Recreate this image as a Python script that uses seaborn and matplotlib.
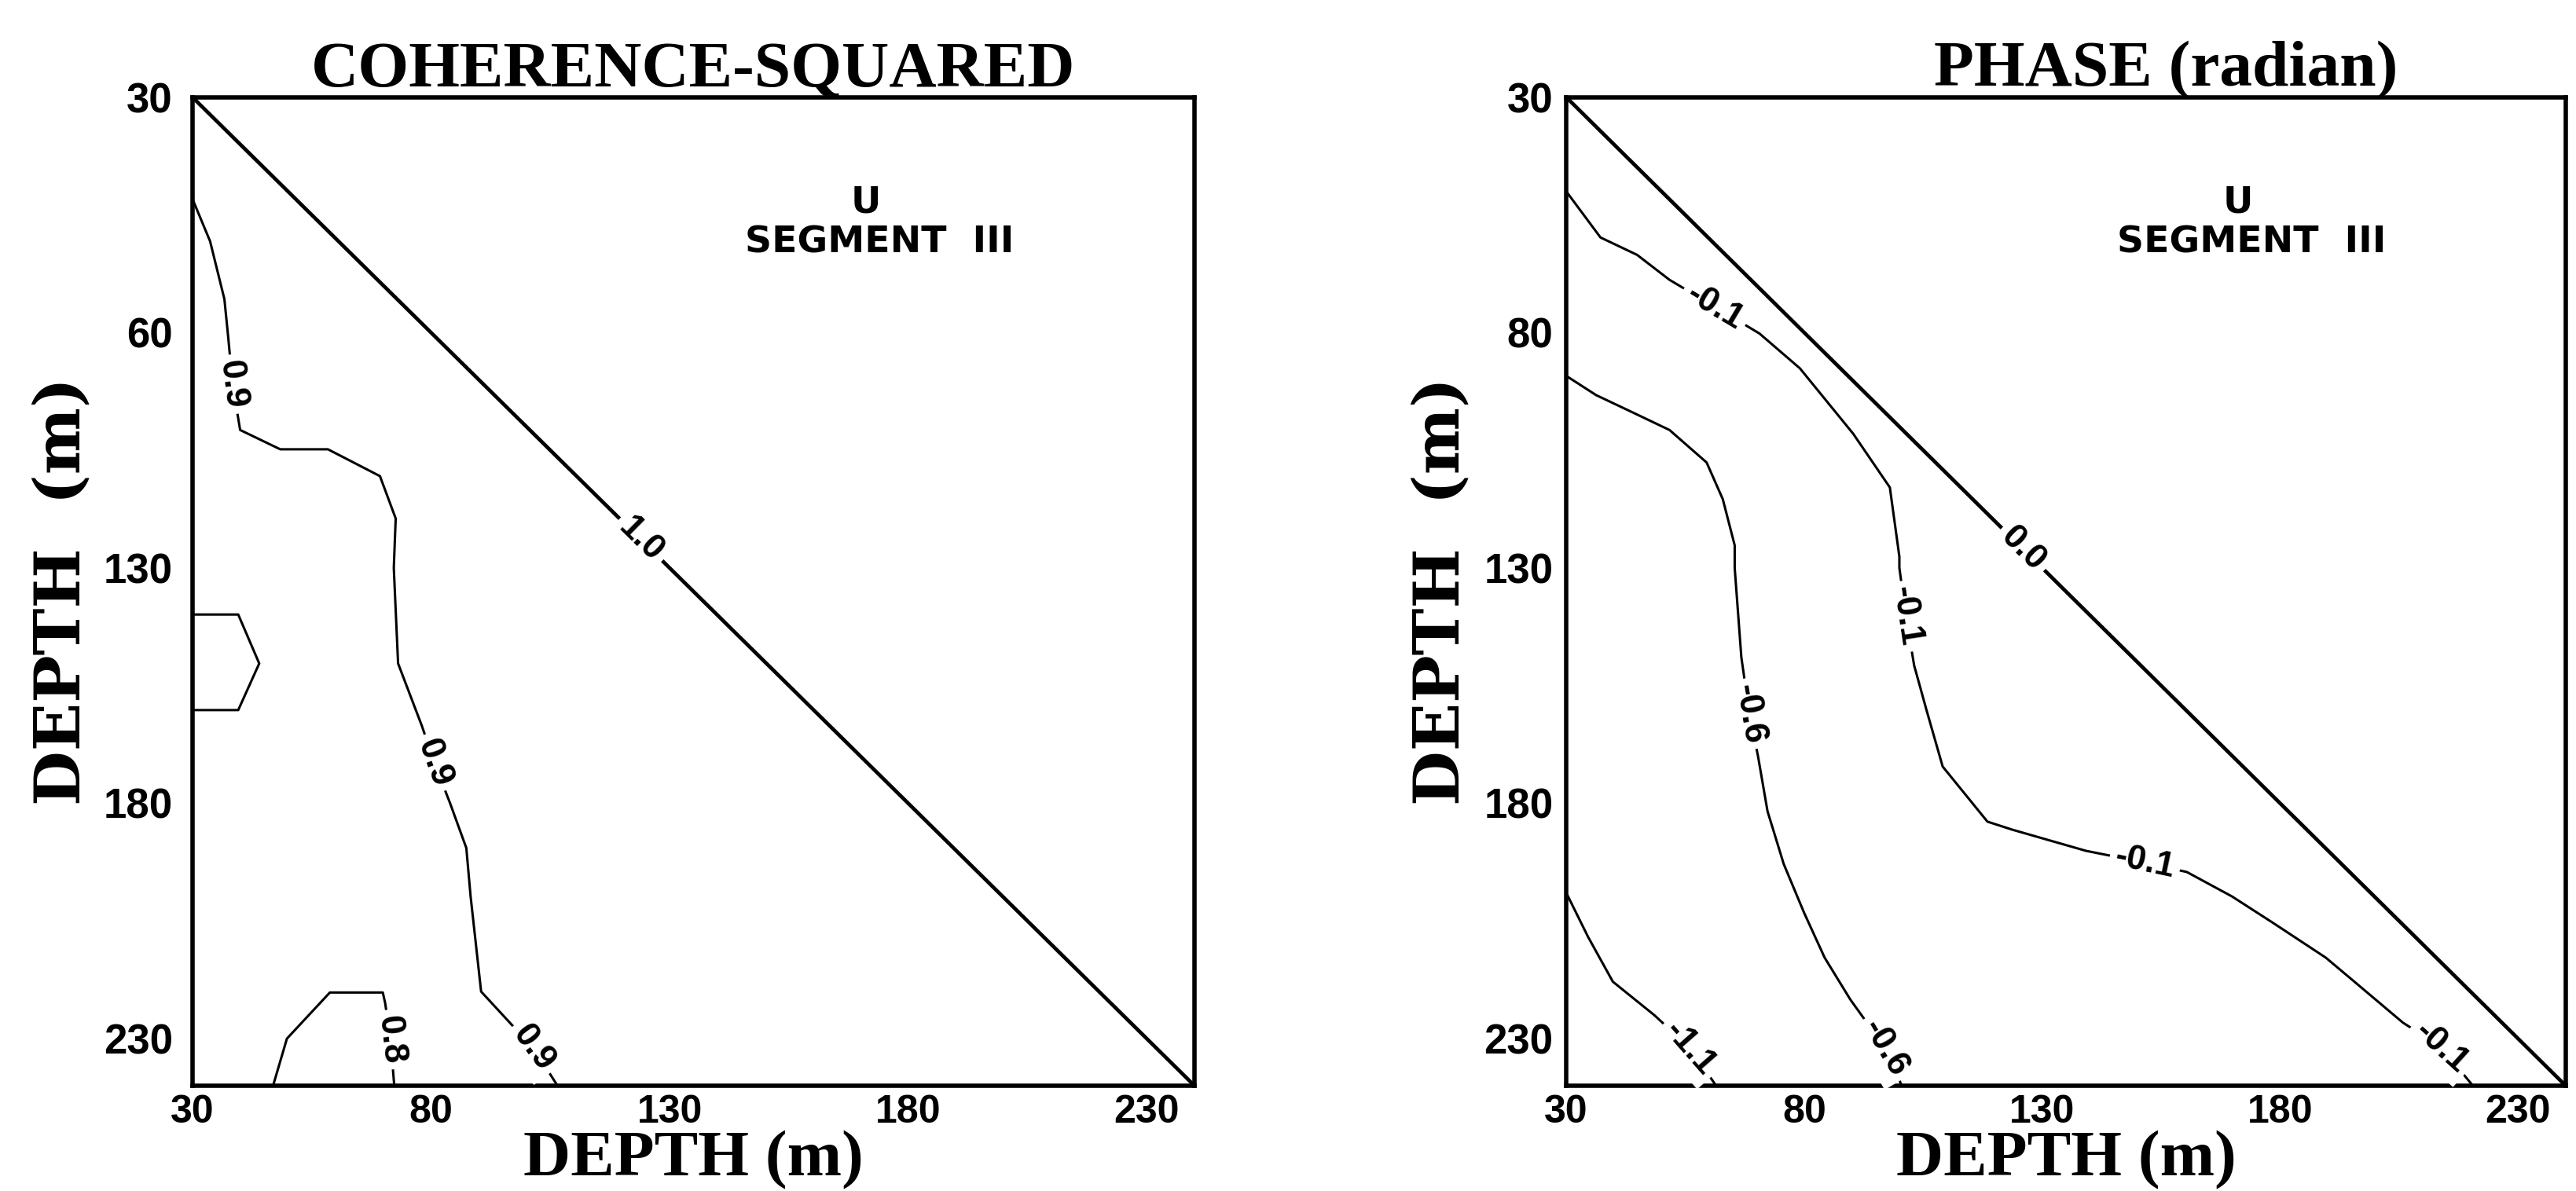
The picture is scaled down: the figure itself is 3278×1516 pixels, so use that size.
import numpy as np
import pandas as pd
import matplotlib
matplotlib.use("Agg")
import matplotlib.pyplot as plt
import seaborn as sns

# axis set-up (depth in metres on both axes)
depth_lim = (30, 240)
major_ticks = [30, 80, 130, 180, 230]
minor_ticks = [40, 50, 60, 70, 90, 100, 110, 120, 140, 150, 160, 170,
               190, 200, 210, 220]
xtick_labels = ["30", "80", "130", "180", "230"]
coh_ytick_labels = ["30", "60", "130", "180", "230"]
phase_ytick_labels = ["30", "80", "130", "180", "230"]

# --- coherence-squared contours ---
coh_diag_x = [30, 240]
coh_diag_y = [30, 240]

coh_09_x = [30, 33.7, 36.7, 37.5, 38.4, 40, 48.4, 58.4, 69.3, 72.6, 72.2,
            73.1, 78.1, 80.7, 84, 87.4, 88.3, 90.5, 97.6, 101.5, 106.5]
coh_09_y = [51.6, 60.6, 72.9, 81, 90.9, 100.7, 104.8, 104.8, 110.5, 119.5,
            130, 150.3, 163.6, 171.4, 180, 189.5, 199.8, 220, 227.8, 232, 240]

coh_bump_x = [30, 39.6, 44, 39.6, 30]
coh_bump_y = [139.9, 139.9, 150.3, 160.2, 160.2]

coh_08_x = [46.9, 49.8, 58.8, 69.9, 70.4, 71.5, 72.3]
coh_08_y = [240, 230, 220.2, 220.2, 222.5, 230.2, 240]

coh_labels = [("1.0", 124, 124, "diag"), ("0.9", 38.4, 91, "c09"),
              ("0.9", 80.7, 171.4, "c09"), ("0.9", 101.5, 232, "c09"),
              ("0.8", 71.5, 230.2, "c08")]

# --- phase contours (radian) ---
ph_diag_x = [30, 240]
ph_diag_y = [30, 240]

ph_01_x = [30, 37.2, 44.9, 51.7, 61.2, 70.6, 79.1, 90.3, 98, 100, 100, 101.4,
           103.1, 105.7, 109.1, 118.5, 123.7, 139.2, 151.6, 160.4, 169.9,
           178.5, 189.6, 195.6, 205.8, 213.8, 220.5]
ph_01_y = [50, 59.8, 63.5, 68.8, 74.5, 80.2, 87.6, 101.5, 112.9, 127.6, 130,
           140.3, 150.7, 160.2, 172.2, 183.9, 185.6, 190.1, 192.6, 194.6,
           199.8, 205.4, 212.8, 217.9, 226.6, 231.8, 240]

ph_06_x = [30, 36.3, 43.2, 51.7, 59.5, 62.9, 65.4, 65.4, 66.8, 68.5, 70.3,
           72.3, 75.7, 80, 84.3, 89.7, 97, 100.5]
ph_06_y = [89.2, 93.3, 96.6, 100.7, 107.6, 115.4, 125.2, 130, 149, 161, 170,
           181.7, 192.9, 203.3, 212.8, 221.7, 232, 240]

ph_11_x = [30, 34.6, 39.8, 48.5, 56, 61.5]
ph_11_y = [199, 208.4, 217.9, 225, 232, 240]

ph_labels = [("0.0", 126, 126, "diag"), ("-0.1", 61.2, 74.5, "p01"),
             ("-0.1", 101.4, 140.3, "p01"), ("-0.1", 151.6, 192.6, "p01"),
             ("-0.1", 213.8, 231.8, "p01"), ("-0.6", 68.5, 161, "p06"),
             ("-0.6", 97, 232, "p06"), ("-1.1", 56, 232, "p11")]

sns.set_style("white")
plt.rcParams["font.family"] = ["DejaVu Sans"]
plt.rcParams["text.color"] = "black"
plt.rcParams["axes.labelcolor"] = "black"
plt.rcParams["xtick.color"] = "black"
plt.rcParams["ytick.color"] = "black"

NARROW = ["Liberation Sans", "DejaVu Sans"]
SERIF = ["Liberation Serif", "DejaVu Serif"]


def to_frame(lines):
    frames = []
    for name, xs, ys in lines:
        frames.append(pd.DataFrame({"x": xs, "y": ys, "line": name}))
    return pd.concat(frames, ignore_index=True)


def panel(fig, rect, diag, lines, labels, title, title_x, ylabels, ytick_pad,
          ylab_x):
    ax = fig.add_axes(rect)
    sns.lineplot(data=to_frame(lines), x="x", y="y", units="line",
                 estimator=None, sort=False, color="black", lw=1.1,
                 legend=False, ax=ax)
    sns.lineplot(data=to_frame([diag]), x="x", y="y", units="line",
                 estimator=None, sort=False, color="black", lw=1.7,
                 legend=False, ax=ax)
    ax.set_xlim(*depth_lim)
    ax.set_ylim(depth_lim[1], depth_lim[0])

    ax.set_xticks(major_ticks, labels=xtick_labels, fontsize=18,
                  fontweight="bold", family=NARROW)
    ax.set_yticks(major_ticks, labels=ylabels, fontsize=19,
                  fontweight="bold", family=NARROW)
    ax.set_xticks(minor_ticks, minor=True)
    ax.set_yticks(minor_ticks, minor=True)
    ax.tick_params(which="both", direction="in", length=4.5, width=1.3,
                   top=False, right=False, color="black")
    ax.tick_params(axis="x", which="major", pad=4)
    ax.tick_params(axis="y", which="major", pad=ytick_pad)
    for sp in ax.spines.values():
        sp.set_color("black")
        sp.set_linewidth(2.0)

    ax.set_title(title, fontsize=30, fontweight="bold", family=SERIF, pad=5,
                 x=title_x)
    ax.set_xlabel("DEPTH (m)", fontsize=30, fontweight="bold", family=SERIF,
                  va="bottom")
    ax.xaxis.set_label_coords(0.5, -0.105)
    ax.set_ylabel("DEPTH  (m)", fontsize=29, fontweight="bold",
                  family=["DejaVu Serif"], va="center")
    ax.yaxis.set_label_coords(ylab_x, 0.5)

    ax.text(0.672, 0.893, "U", transform=ax.transAxes, ha="center",
            va="center", fontsize=17, fontweight="bold")
    ax.text(0.686, 0.853, "SEGMENT  III", transform=ax.transAxes,
            ha="center", va="center", fontsize=17, fontweight="bold")

    # contour labels, rotated along the line, with a white gap behind them
    line_map = {name: (xs, ys) for name, xs, ys in lines + [diag]}
    for text, lx, ly, name in labels:
        xs, ys = line_map[name]
        pts = ax.transData.transform(np.column_stack([xs, ys]))
        p = ax.transData.transform((lx, ly))
        i = int(np.argmin(np.hypot(*(pts - p).T)))
        j0, j1 = max(i - 1, 0), min(i + 1, len(xs) - 1)
        dx, dy = pts[j1] - pts[j0]
        ang = np.degrees(np.arctan2(dy, dx))
        if ang > 90:
            ang -= 180
        if ang < -90:
            ang += 180
        ax.text(lx, ly, text, rotation=ang, rotation_mode="anchor",
                ha="center", va="center", fontsize=16, fontweight="bold",
                family=NARROW,
                bbox=dict(fc="white", ec="none", pad=2.5))
    return ax


fig = plt.figure(figsize=(16.39, 7.58), dpi=200)

panel(fig, [0.0747, 0.0884, 0.389, 0.830],
      ("diag", coh_diag_x, coh_diag_y),
      [("c09", coh_09_x, coh_09_y), ("bump", coh_bump_x, coh_bump_y),
       ("c08", coh_08_x, coh_08_y)],
      coh_labels, "COHERENCE-SQUARED", 0.5, coh_ytick_labels, 9, -0.130)

panel(fig, [0.608, 0.0884, 0.388, 0.830],
      ("diag", ph_diag_x, ph_diag_y),
      [("p01", ph_01_x, ph_01_y), ("p06", ph_06_x, ph_06_y),
       ("p11", ph_11_x, ph_11_y)],
      ph_labels, "PHASE (radian)", 0.6, phase_ytick_labels, 6, -0.125)

fig.savefig("out.png", dpi=200, facecolor="white")
